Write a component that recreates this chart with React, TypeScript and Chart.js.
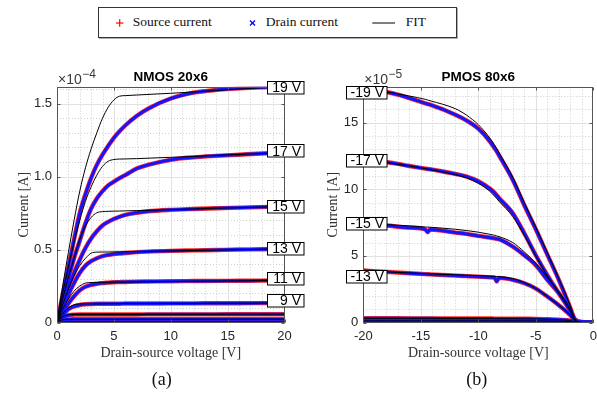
import React, { useEffect, useRef } from "react";
import { Chart, registerables } from "chart.js";

Chart.register(...registerables);

// ---------------- NMOS 20x6 (current in units of 1e-4 A) ----------------
const nmosVds = [0, 0.5, 1, 1.5, 2, 2.5, 3, 3.5, 4, 4.5, 5, 5.5, 6, 7, 8, 10, 12, 14, 16, 18, 20];

const nmosData19 = [0, 0.19, 0.38, 0.57, 0.75, 0.88, 0.99, 1.08, 1.15, 1.21, 1.265, 1.31, 1.35, 1.415, 1.465, 1.535, 1.575, 1.594, 1.605, 1.612, 1.616];
const nmosFit19 = [0, 0.25, 0.48, 0.7, 0.9, 1.06, 1.19, 1.3, 1.4, 1.475, 1.525, 1.551, 1.555, 1.559, 1.563, 1.571, 1.58, 1.59, 1.6, 1.608, 1.616];
const nmosData17 = [0, 0.15, 0.3, 0.44, 0.56, 0.68, 0.78, 0.85, 0.9, 0.94, 0.965, 0.99, 1.01, 1.055, 1.08, 1.115, 1.132, 1.142, 1.15, 1.158, 1.165];
const nmosFit17 = [0, 0.2, 0.38, 0.55, 0.7, 0.83, 0.93, 1.01, 1.07, 1.105, 1.117, 1.12, 1.121, 1.123, 1.126, 1.132, 1.138, 1.145, 1.152, 1.158, 1.165];
const nmosData15 = [0, 0.12, 0.24, 0.34, 0.43, 0.51, 0.575, 0.625, 0.665, 0.69, 0.71, 0.725, 0.737, 0.752, 0.762, 0.772, 0.778, 0.783, 0.787, 0.791, 0.795];
const nmosFit15 = [0, 0.16, 0.31, 0.44, 0.57, 0.66, 0.72, 0.752, 0.76, 0.762, 0.763, 0.764, 0.765, 0.767, 0.769, 0.774, 0.778, 0.783, 0.787, 0.791, 0.795];
const nmosData13 = [0, 0.1, 0.19, 0.27, 0.34, 0.39, 0.42, 0.44, 0.455, 0.463, 0.469, 0.473, 0.476, 0.482, 0.486, 0.491, 0.494, 0.497, 0.5, 0.502, 0.505];
const nmosFit13 = [0, 0.12, 0.23, 0.32, 0.39, 0.44, 0.475, 0.482, 0.483, 0.483, 0.484, 0.484, 0.485, 0.486, 0.487, 0.49, 0.493, 0.496, 0.499, 0.502, 0.505];
const nmosData11 = [0, 0.07, 0.13, 0.18, 0.22, 0.245, 0.258, 0.265, 0.27, 0.273, 0.276, 0.277, 0.278, 0.28, 0.281, 0.283, 0.284, 0.285, 0.286, 0.287, 0.288];
const nmosFit11 = [0, 0.09, 0.16, 0.215, 0.25, 0.27, 0.274, 0.275, 0.275, 0.276, 0.276, 0.277, 0.277, 0.278, 0.279, 0.281, 0.283, 0.284, 0.285, 0.287, 0.288];
const nmosData9 = [0, 0.05, 0.09, 0.11, 0.12, 0.125, 0.127, 0.128, 0.128, 0.129, 0.129, 0.129, 0.13, 0.13, 0.13, 0.131, 0.131, 0.132, 0.132, 0.133, 0.133];
const nmosFit9 = [0, 0.06, 0.1, 0.122, 0.127, 0.128, 0.128, 0.128, 0.128, 0.129, 0.129, 0.129, 0.13, 0.13, 0.13, 0.131, 0.131, 0.132, 0.132, 0.133, 0.133];
const nmosData7 = [0, 0.035, 0.05, 0.054, 0.055, 0.055, 0.055, 0.055, 0.055, 0.055, 0.055, 0.055, 0.055, 0.055, 0.056, 0.056, 0.056, 0.056, 0.057, 0.057, 0.057];
const nmosFit7 = [0, 0.04, 0.053, 0.055, 0.055, 0.055, 0.055, 0.055, 0.055, 0.055, 0.055, 0.055, 0.055, 0.055, 0.056, 0.056, 0.056, 0.056, 0.057, 0.057, 0.057];
const nmosData5 = [0, 0.017, 0.021, 0.022, 0.022, 0.022, 0.022, 0.022, 0.022, 0.022, 0.022, 0.022, 0.022, 0.022, 0.022, 0.022, 0.023, 0.023, 0.023, 0.023, 0.023];
const nmosFit5 = [0, 0.019, 0.022, 0.022, 0.022, 0.022, 0.022, 0.022, 0.022, 0.022, 0.022, 0.022, 0.022, 0.022, 0.022, 0.022, 0.023, 0.023, 0.023, 0.023, 0.023];
const nmosData3 = [0, 0.002, 0.003, 0.003, 0.003, 0.003, 0.003, 0.003, 0.003, 0.003, 0.003, 0.003, 0.003, 0.003, 0.003, 0.003, 0.003, 0.003, 0.003, 0.003, 0.003];
const nmosFit3 = [0, 0.002, 0.003, 0.003, 0.003, 0.003, 0.003, 0.003, 0.003, 0.003, 0.003, 0.003, 0.003, 0.003, 0.003, 0.003, 0.003, 0.003, 0.003, 0.003, 0.003];

const nmosGateLabels = ["19 V", "17 V", "15 V", "13 V", "11 V", "9 V"];
const nmosLabelCurrent = [1.612, 1.178, 0.8, 0.51, 0.302, 0.155];

// ---------------- PMOS 80x6 (current in units of 1e-5 A) ----------------
const pmosVds = [-20, -18, -16, -14.6, -14.4, -14.2, -12, -11, -10, -9, -8.6, -8.4, -8.2, -7, -6, -5, -4, -3, -2, -1.6, -1, 0];

const pmosData19 = [17.4, 17.3, 16.85, 16.45, 16.4, 16.35, 15.6, 15.15, 14.55, 13.6, 13.1, 12.85, 12.55, 10.7, 8.8, 7.0, 5.1, 3.2, 1.1, 0.2, 0.05, 0.02];
const pmosFit19 = [17.45, 17.3, 17.0, 16.75, 16.7, 16.65, 16.05, 15.55, 14.85, 13.85, 13.35, 13.05, 12.75, 10.9, 9.0, 7.15, 5.25, 3.3, 1.25, 0.25, 0, 0];
const pmosData17 = [12.2, 12.05, 11.75, 11.55, 11.52, 11.5, 11.15, 10.95, 10.6, 10.05, 9.75, 9.55, 9.35, 8.2, 6.7, 5.05, 3.55, 2.2, 0.85, 0.2, 0.03, 0.02];
const pmosFit17 = [12.2, 12.0, 11.75, 11.55, 11.52, 11.48, 11.1, 10.85, 10.45, 9.85, 9.5, 9.3, 9.1, 7.95, 6.55, 5.0, 3.5, 2.2, 0.85, 0.2, 0, 0];
const pmosData15 = [7.4, 7.28, 7.12, 6.98, 6.78, 6.98, 6.75, 6.65, 6.5, 6.38, 6.32, 6.28, 6.25, 5.7, 5.05, 4.3, 3.2, 2.2, 0.95, 0.25, 0.03, 0.02];
const pmosFit15 = [7.42, 7.35, 7.25, 7.17, 7.16, 7.15, 7.0, 6.9, 6.78, 6.62, 6.55, 6.5, 6.45, 6.0, 5.3, 4.45, 3.4, 2.3, 1.0, 0.25, 0, 0];
const pmosData13 = [3.9, 3.8, 3.7, 3.63, 3.62, 3.61, 3.52, 3.48, 3.44, 3.4, 3.38, 3.08, 3.35, 3.2, 2.95, 2.55, 1.95, 1.3, 0.55, 0.15, 0.03, 0.02];
const pmosFit13 = [3.88, 3.8, 3.72, 3.67, 3.66, 3.65, 3.58, 3.55, 3.52, 3.48, 3.46, 3.45, 3.44, 3.3, 3.0, 2.55, 1.95, 1.3, 0.55, 0.15, 0, 0];
const pmosData11 = [0.32, 0.32, 0.31, 0.31, 0.31, 0.31, 0.3, 0.3, 0.3, 0.3, 0.29, 0.29, 0.29, 0.29, 0.28, 0.27, 0.25, 0.21, 0.14, 0.05, 0.02, 0.02];
const pmosFit11 = [0.31, 0.31, 0.31, 0.31, 0.31, 0.31, 0.3, 0.3, 0.3, 0.3, 0.29, 0.29, 0.29, 0.29, 0.28, 0.27, 0.25, 0.21, 0.14, 0.05, 0, 0];
const pmosData9 = [0.13, 0.13, 0.13, 0.13, 0.13, 0.13, 0.12, 0.12, 0.12, 0.12, 0.12, 0.12, 0.12, 0.12, 0.12, 0.11, 0.11, 0.1, 0.07, 0.03, 0.02, 0.02];
const pmosFit9 = [0.12, 0.12, 0.12, 0.12, 0.12, 0.12, 0.12, 0.12, 0.12, 0.12, 0.12, 0.12, 0.12, 0.12, 0.12, 0.11, 0.11, 0.1, 0.07, 0.03, 0, 0];

const pmosGateLabels = ["-19 V", "-17 V", "-15 V", "-13 V"];
const pmosLabelCurrent = [17.27, 12.18, 7.48, 3.48];

const legendLabels = ["Source current", "Drain current", "FIT"];

// ---------------- helpers ----------------
const toPoints = (xs: number[], ys: number[]) => xs.map((x, i) => ({ x, y: ys[i] }));

function buildDatasets(xs: number[], curves: number[][][]) {
  const sets: any[] = [];
  const common = {
    pointRadius: 0,
    pointHoverRadius: 0,
    fill: false,
    cubicInterpolationMode: "monotone",
    borderCapStyle: "round",
    borderJoinStyle: "round",
  };
  curves.forEach(([data, fit]) => {
    sets.push({ ...common, label: legendLabels[0], data: toPoints(xs, data), borderColor: "#ff2a2a", borderWidth: 4.4, order: 3 });
    sets.push({ ...common, label: legendLabels[1], data: toPoints(xs, data), borderColor: "#1414ff", borderWidth: 3, order: 2 });
    sets.push({ ...common, label: legendLabels[2], data: toPoints(xs, fit), borderColor: "#000000", borderWidth: 1, order: 1 });
  });
  return sets;
}

const isMult = (v: number, m: number) => Math.abs(v / m - Math.round(v / m)) < 1e-6;

const decorPlugin = {
  id: "decor",
  beforeDatasetsDraw(chart: any, _args: any, o: any) {
    const { ctx, chartArea: ca, scales } = chart;
    const xs = scales.x;
    const ys = scales.y;
    ctx.save();
    ctx.lineWidth = 1;
    const nx = Math.round((xs.max - xs.min) / o.xMinor);
    for (let i = 1; i < nx; i++) {
      const v = xs.min + i * o.xMinor;
      const major = isMult(v, o.xMajor);
      const px = Math.round(xs.getPixelForValue(v)) + 0.5;
      ctx.beginPath();
      ctx.strokeStyle = major ? "#e1e1e1" : "#cfcfcf";
      ctx.setLineDash(major ? [] : [1, 2]);
      ctx.moveTo(px, ca.top);
      ctx.lineTo(px, ca.bottom);
      ctx.stroke();
    }
    const ny = Math.floor((ys.max - ys.min) / o.yMinor + 1e-6);
    for (let i = 1; i <= ny; i++) {
      const v = ys.min + i * o.yMinor;
      if (v >= ys.max - 1e-6) continue;
      const major = isMult(v, o.yMajor);
      const py = Math.round(ys.getPixelForValue(v)) + 0.5;
      ctx.beginPath();
      ctx.strokeStyle = major ? "#e1e1e1" : "#cfcfcf";
      ctx.setLineDash(major ? [] : [1, 2]);
      ctx.moveTo(ca.left, py);
      ctx.lineTo(ca.right, py);
      ctx.stroke();
    }
    ctx.restore();
  },
  afterDraw(chart: any, _args: any, o: any) {
    const { ctx, chartArea: ca, scales } = chart;
    const xs = scales.x;
    const ys = scales.y;
    ctx.save();
    ctx.setLineDash([]);
    // box
    const L = Math.round(ca.left) + 0.5;
    const R = Math.round(ca.right) - 0.5;
    const T = Math.round(ca.top) + 0.5;
    const B = Math.round(ca.bottom) - 0.5;
    ctx.strokeStyle = "#555555";
    ctx.lineWidth = 1;
    ctx.strokeRect(L, T, R - L, B - T);
    // inward ticks
    ctx.beginPath();
    for (let v = xs.min; v <= xs.max + 1e-9; v += o.xMajor) {
      const px = Math.round(xs.getPixelForValue(v)) + 0.5;
      ctx.moveTo(px, B);
      ctx.lineTo(px, B - 3);
      ctx.moveTo(px, T);
      ctx.lineTo(px, T + 3);
    }
    for (let v = 0; v <= ys.max + 1e-9; v += o.yMajor) {
      const py = Math.round(ys.getPixelForValue(v)) + 0.5;
      ctx.moveTo(L, py);
      ctx.lineTo(L + 3, py);
      ctx.moveTo(R, py);
      ctx.lineTo(R - 3, py);
    }
    ctx.stroke();

    // gate-voltage labels
    ctx.font = '14px "Liberation Sans", Arial, sans-serif';
    ctx.textBaseline = "alphabetic";
    const labels: string[] = o.labels;
    const labelY: number[] = o.labelY;
    labels.forEach((text, i) => {
      const cy = ys.getPixelForValue(labelY[i]);
      const edge = xs.getPixelForValue(o.labelEdge);
      const bx = o.labelSide === "right" ? edge : edge - o.boxW;
      const x0 = Math.round(bx) + 0.5;
      const y0 = Math.round(cy - o.boxH / 2) + 0.5;
      ctx.fillStyle = "#ffffff";
      ctx.fillRect(x0, y0, o.boxW, o.boxH);
      ctx.strokeStyle = "#000000";
      ctx.strokeRect(x0, y0, o.boxW, o.boxH);
      ctx.fillStyle = "#000000";
      ctx.textAlign = "right";
      ctx.fillText(text, x0 + o.boxW - 3, cy + 5);
    });

    // title
    const cx = (ca.left + ca.right) / 2;
    ctx.fillStyle = "#000000";
    ctx.textAlign = "center";
    ctx.font = 'bold 13.5px "Liberation Sans", Arial, sans-serif';
    ctx.fillText(o.title, cx, o.titleBaseline);

    // exponent
    ctx.fillStyle = "#3a3a3a";
    ctx.textAlign = "left";
    ctx.font = '14px "Liberation Sans", Arial, sans-serif';
    const ex = ca.left + 1;
    ctx.fillText("\u00d710", ex, o.expBaseline);
    const w = ctx.measureText("\u00d710").width;
    ctx.font = '12px "Liberation Sans", Arial, sans-serif';
    ctx.fillText(o.expPow, ex + w + 0.5, o.expBaseline - 5.5);

    // axis titles
    ctx.fillStyle = "#333333";
    ctx.font = '14px "Liberation Serif", "Times New Roman", serif';
    ctx.textAlign = "center";
    ctx.fillText(o.xTitle, cx, o.xTitleBaseline);
    ctx.save();
    ctx.translate(o.yTitleX, (ca.top + ca.bottom) / 2);
    ctx.rotate(-Math.PI / 2);
    ctx.fillText(o.yTitle, 0, 0);
    ctx.restore();
    ctx.restore();
  },
};

type Spec = {
  xs: number[];
  curves: number[][][];
  xMin: number;
  xMax: number;
  yMax: number;
  yStep: number;
  yMinor: number;
  axisWidth: number;
  padRight: number;
  decor: any;
};

const PLOT_TOP = 86.7;
const PLOT_BOTTOM = 322.5;
const CANVAS_H = 395;
const tickFont = { family: '"Liberation Sans", Arial, sans-serif', size: 13 };

function buildConfig(spec: Spec): any {
  return {
    type: "line",
    data: { datasets: buildDatasets(spec.xs, spec.curves) },
    options: {
      responsive: false,
      animation: false,
      devicePixelRatio: 1,
      events: [],
      layout: { padding: { top: PLOT_TOP, right: spec.padRight, left: 0, bottom: 0 } },
      plugins: {
        legend: { display: false },
        tooltip: { enabled: false },
        decor: { ...spec.decor, xMinor: 1, xMajor: 5, yMinor: spec.yMinor, yMajor: spec.yStep },
      },
      scales: {
        x: {
          type: "linear",
          min: spec.xMin,
          max: spec.xMax,
          grid: { display: false, drawTicks: false },
          border: { display: false },
          ticks: { stepSize: 5, includeBounds: false, font: tickFont, color: "#262626", padding: 6, maxRotation: 0 },
          afterFit: (s: any) => {
            s.height = CANVAS_H - PLOT_BOTTOM;
            s.paddingLeft = 0;
            s.paddingRight = 0;
          },
        },
        y: {
          type: "linear",
          min: 0,
          max: spec.yMax,
          grid: { display: false, drawTicks: false },
          border: { display: false },
          ticks: { stepSize: spec.yStep, includeBounds: false, font: tickFont, color: "#262626", padding: 5 },
          afterFit: (s: any) => {
            s.width = spec.axisWidth;
            s.paddingTop = 0;
            s.paddingBottom = 0;
          },
        },
      },
    },
    plugins: [decorPlugin],
  };
}

const nmosSpec: Spec = {
  xs: nmosVds,
  curves: [
    [nmosData19, nmosFit19],
    [nmosData17, nmosFit17],
    [nmosData15, nmosFit15],
    [nmosData13, nmosFit13],
    [nmosData11, nmosFit11],
    [nmosData9, nmosFit9],
    [nmosData7, nmosFit7],
    [nmosData5, nmosFit5],
    [nmosData3, nmosFit3],
  ],
  xMin: 0,
  xMax: 20,
  yMax: 1.616,
  yStep: 0.5,
  yMinor: 0.1,
  axisWidth: 57,
  padRight: 310 - 284.5,
  decor: {
    title: "NMOS 20x6",
    titleBaseline: 81,
    expPow: "\u22124",
    expBaseline: 83.5,
    xTitle: "Drain-source voltage [V]",
    xTitleBaseline: 356.5,
    yTitle: "Current [A]",
    yTitleX: 27.5,
    labels: nmosGateLabels,
    labelY: nmosLabelCurrent,
    labelSide: "right",
    labelEdge: 18.45,
    boxW: 36.5,
    boxH: 12.5,
  },
};

const pmosSpec: Spec = {
  xs: pmosVds,
  curves: [
    [pmosData19, pmosFit19],
    [pmosData17, pmosFit17],
    [pmosData15, pmosFit15],
    [pmosData13, pmosFit13],
    [pmosData11, pmosFit11],
    [pmosData9, pmosFit9],
  ],
  xMin: -20,
  xMax: 0,
  yMax: 17.7,
  yStep: 5,
  yMinor: 1,
  axisWidth: 63.3,
  padRight: 297 - 293.3,
  decor: {
    title: "PMOS 80x6",
    titleBaseline: 81,
    expPow: "\u22125",
    expBaseline: 83.5,
    xTitle: "Drain-source voltage [V]",
    xTitleBaseline: 356.5,
    yTitle: "Current [A]",
    yTitleX: 36.5,
    labels: pmosGateLabels,
    labelY: pmosLabelCurrent,
    labelSide: "left",
    labelEdge: -18.0,
    boxW: 40.5,
    boxH: 12.5,
  },
};

function ChartCanvas({ spec, left, width }: { spec: Spec; left: number; width: number }) {
  const ref = useRef<HTMLCanvasElement | null>(null);
  useEffect(() => {
    if (!ref.current) return;
    const chart = new Chart(ref.current, buildConfig(spec));
    return () => chart.destroy();
  }, [spec]);
  return (
    <canvas
      ref={ref}
      width={width}
      height={CANVAS_H}
      style={{ position: "absolute", left, top: 0, width, height: CANVAS_H }}
    />
  );
}

const serif = '"Liberation Serif", "Times New Roman", serif';

function Legend() {
  const textStyle: React.CSSProperties = {
    position: "absolute",
    top: 14.4,
    fontFamily: serif,
    fontSize: 13.5,
    lineHeight: "16px",
    color: "#111",
    whiteSpace: "nowrap",
  };
  return (
    <>
      <div
        style={{
          position: "absolute",
          left: 98,
          top: 7,
          width: 359,
          height: 31,
          boxSizing: "border-box",
          border: "1px solid #333",
          boxShadow: "1px 1px 0 #b0b0b0",
          background: "#fff",
        }}
      />
      <svg style={{ position: "absolute", left: 0, top: 0 }} width={597} height={40}>
        <line x1={116} y1={23} x2={123.4} y2={23} stroke="#ff0000" strokeWidth={1.2} />
        <line x1={119.7} y1={19.3} x2={119.7} y2={26.7} stroke="#ff0000" strokeWidth={1.2} />
        <line x1={250} y1={20.5} x2={255} y2={25.5} stroke="#0000ff" strokeWidth={1.3} />
        <line x1={250} y1={25.5} x2={255} y2={20.5} stroke="#0000ff" strokeWidth={1.3} />
        <line x1={372.3} y1={23} x2={395} y2={23} stroke="#000" strokeWidth={1} />
      </svg>
      <span style={{ ...textStyle, left: 132.7 }}>{legendLabels[0]}</span>
      <span style={{ ...textStyle, left: 265.7 }}>{legendLabels[1]}</span>
      <span style={{ ...textStyle, left: 405.7 }}>{legendLabels[2]}</span>
    </>
  );
}

function Caption({ text, cx }: { text: string; cx: number }) {
  return (
    <div
      style={{
        position: "absolute",
        left: cx - 30,
        width: 60,
        top: 369,
        textAlign: "center",
        fontFamily: serif,
        fontSize: 18,
        lineHeight: "20px",
        color: "#111",
      }}
    >
      {text}
    </div>
  );
}

export default function App() {
  return (
    <div
      style={{
        position: "absolute",
        left: 0,
        top: 0,
        width: 597,
        height: 395,
        background: "#ffffff",
        overflow: "hidden",
      }}
    >
      <Legend />
      <ChartCanvas spec={nmosSpec} left={0} width={310} />
      <ChartCanvas spec={pmosSpec} left={300} width={297} />
      <Caption text="(a)" cx={161.7} />
      <Caption text="(b)" cx={476.7} />
    </div>
  );
}
